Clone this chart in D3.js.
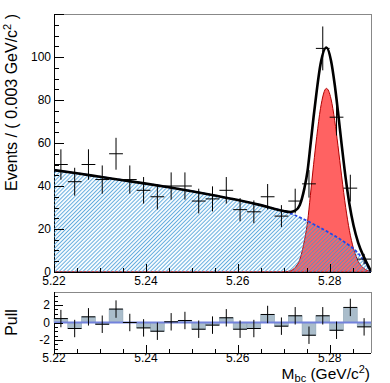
<!DOCTYPE html>
<html><head><meta charset="utf-8">
<script src="https://cdn.jsdelivr.net/npm/d3@7"></script>
<style>body{margin:0;background:#fff}svg{display:block}text{font-family:"Liberation Sans",Arial,Helvetica,sans-serif;fill:#000}</style>
</head><body><svg id="c" width="390" height="383"></svg>
<script>
// ---------- data ----------
const binCenters = [5.2215,5.2245,5.2275,5.2305,5.2335,5.2365,5.2395,5.2425,5.2455,5.2485,5.2515,5.2545,5.2575,5.2605,5.2635,5.2665,5.2695,5.2725,5.2755,5.2785,5.2815,5.2845,5.2875];
const events = [50,42,50,43,55,43,38,35,40,40,33,34,38,29,28,35,26,33,41,104,72,39,6];
const pulls = [0.45,-0.69,0.65,-0.2,1.54,0.0,-0.62,-1.0,0.08,0.23,-0.77,-0.3,0.54,-0.77,-0.69,0.92,-0.42,0.77,-1.46,0.77,-0.89,1.73,-0.5];
const curveMass = [5.220,5.225,5.230,5.235,5.240,5.245,5.250,5.255,5.260,5.265,5.270,5.2715,5.2725,5.2735,5.2745,5.2752,5.2758,5.2765,5.2772,5.2780,5.2793,5.2803,5.2811,5.2818,5.2826,5.2835,5.2843,5.2852,5.2862,5.2875,5.2890];
const bkgCurve = [47.4,45.9,44.3,42.7,41.1,39.4,37.6,35.6,33.5,31.1,28.3,27.3,26.4,25.4,24.4,23.7,23.0,22.2,21.4,20.5,19.0,17.8,16.8,15.9,14.8,13.5,12.3,10.8,8.7,5.2,0.0];
const sigCurve = [0,0,0,0,0,0,0,0,0,0,0.05,0.6,2.1,5.8,14.5,23.5,35.5,49.9,63.1,76.0,85.4,80.5,70.4,58.9,44.7,29.9,19.3,10.8,5.0,1.6,0.3];
const totalCurve = [47.4,45.9,44.3,42.7,41.1,39.4,37.6,35.6,33.5,31.1,28.35,27.9,28.5,31.2,38.9,47.2,58.5,72.1,84.5,96.5,104.4,98.3,87.2,74.8,59.5,43.4,31.6,21.6,13.7,6.8,0.3];
const xTickValues = [5.22,5.24,5.26,5.28];
const xTickLabels = ["5.22","5.24","5.26","5.28"];
const yTickValues = [0,20,40,60,80,100];
const yTickLabels = ["0","20","40","60","80","100"];
const pullTickValues = [-2,0,2];
const pullTickLabels = ["-2","0","2"];
const binWidth = 0.003;

// ---------- layout ----------
const svg = d3.select("#c");
const L = 54, R = 371, T = 14, B = 272, PT = 292, PB = 353;
const x = d3.scaleLinear().domain([5.22, 5.289]).range([L, R]);
const y = d3.scaleLinear().domain([0, 120]).range([B, T]);
const yp = d3.scaleLinear().domain([-3.5, 3.5]).range([PB, PT]);

const defs = svg.append("defs");
const pat = defs.append("pattern").attr("id", "hatch")
  .attr("patternUnits", "userSpaceOnUse").attr("width", 2.8).attr("height", 10)
  .attr("patternTransform", "rotate(45)");
pat.append("line").attr("x1", 1.4).attr("y1", -1).attr("x2", 1.4).attr("y2", 11)
  .attr("stroke", "#3d97d6").attr("stroke-width", 1.05).attr("stroke-opacity", 0.8);
defs.append("clipPath").attr("id", "clipMain").append("rect")
  .attr("x", L).attr("y", T).attr("width", R - L).attr("height", B - T);

// ---------- main panel frame ----------
svg.append("line").attr("x1", L).attr("x2", R).attr("y1", T + 0.5).attr("y2", T + 0.5).attr("stroke", "#888").attr("stroke-width", 1);
svg.append("line").attr("x1", R + 0.5).attr("x2", R + 0.5).attr("y1", T).attr("y2", B).attr("stroke", "#888").attr("stroke-width", 1);
svg.append("line").attr("x1", L).attr("x2", R).attr("y1", B + 0.5).attr("y2", B + 0.5).attr("stroke", "#000");
svg.append("line").attr("x1", L + 0.5).attr("x2", L + 0.5).attr("y1", T).attr("y2", B).attr("stroke", "#000");

const pts = curveMass.map((m, i) => ({m, b: bkgCurve[i], s: sigCurve[i], t: totalCurve[i]}));
const plot = svg.append("g").attr("clip-path", "url(#clipMain)");

// signal
plot.append("path").datum(pts)
  .attr("d", d3.area().x(d => x(d.m)).y0(y(0)).y1(d => y(d.s)).curve(d3.curveMonotoneX))
  .attr("fill", "#ff6262").attr("stroke", "#b00000").attr("stroke-width", 1);
// background hatch
plot.append("path").datum(pts)
  .attr("d", d3.area().x(d => x(d.m)).y0(y(0)).y1(d => y(d.b)).curve(d3.curveMonotoneX))
  .attr("fill", "url(#hatch)");
// background dashed line
plot.append("path").datum(pts)
  .attr("d", d3.line().x(d => x(d.m)).y(d => y(d.b)).curve(d3.curveMonotoneX))
  .attr("fill", "none").attr("stroke", "#2446e6").attr("stroke-width", 1.8).attr("stroke-dasharray", "3,2");
// total
plot.append("path").datum(pts)
  .attr("d", d3.line().x(d => x(d.m)).y(d => y(d.t)).curve(d3.curveMonotoneX))
  .attr("fill", "none").attr("stroke", "#000").attr("stroke-width", 2.6);

// data points
const dp = svg.append("g").attr("stroke", "#000").attr("stroke-width", 1);
binCenters.forEach((c, i) => {
  const n = events[i], e = Math.sqrt(n);
  dp.append("line").attr("x1", x(c - binWidth / 2)).attr("x2", x(c + binWidth / 2)).attr("y1", y(n)).attr("y2", y(n));
  dp.append("line").attr("x1", x(c)).attr("x2", x(c)).attr("y1", y(n - e)).attr("y2", y(Math.min(n + e, 120)));
});

// main ticks
const tk = svg.append("g").attr("stroke", "#000").attr("stroke-width", 1);
d3.range(0, 121, 5).forEach(v => {
  const len = (v % 20 === 0) ? 10 : 5;
  tk.append("line").attr("x1", L).attr("x2", L + len).attr("y1", Math.round(y(v)) + 0.5).attr("y2", Math.round(y(v)) + 0.5);
});
const minorX = d3.range(0, 14).map(k => 5.22 + k * 0.005);
minorX.forEach((v, k) => {
  const len = (k % 4 === 0) ? 8 : 4;
  tk.append("line").attr("x1", Math.round(x(v)) + 0.5).attr("x2", Math.round(x(v)) + 0.5).attr("y1", B).attr("y2", B - len);
});
yTickValues.forEach((v, i) => {
  svg.append("text").attr("x", 51).attr("y", y(v)).attr("dy", "0.36em").attr("text-anchor", "end")
    .attr("font-size", 12).text(yTickLabels[i]);
});
xTickValues.forEach((v, i) => {
  svg.append("text").attr("x", x(v)).attr("y", 285).attr("text-anchor", "middle")
    .attr("font-size", 12).text(xTickLabels[i]);
});
const yt = svg.append("text").attr("transform", "translate(17," + T + ") rotate(-90)")
  .attr("text-anchor", "end").attr("font-size", 16);
yt.append("tspan").text("Events / ( 0.003 GeV/c");
yt.append("tspan").attr("font-size", 11).attr("dy", -6).text("2");
yt.append("tspan").attr("dy", 6).text(" )");

// ---------- pull panel ----------
svg.append("line").attr("x1", L).attr("x2", R).attr("y1", PT + 0.5).attr("y2", PT + 0.5).attr("stroke", "#888");
svg.append("line").attr("x1", R + 0.5).attr("x2", R + 0.5).attr("y1", PT).attr("y2", PB).attr("stroke", "#888");
svg.append("line").attr("x1", L).attr("x2", R).attr("y1", PB + 0.5).attr("y2", PB + 0.5).attr("stroke", "#000");
svg.append("line").attr("x1", L + 0.5).attr("x2", L + 0.5).attr("y1", PT).attr("y2", PB).attr("stroke", "#000");

const pg = svg.append("g");
binCenters.forEach((c, i) => {
  const p = pulls[i];
  pg.append("rect").attr("x", x(c - binWidth / 2)).attr("width", x(c + binWidth / 2) - x(c - binWidth / 2))
    .attr("y", yp(Math.max(p, 0))).attr("height", Math.abs(yp(p) - yp(0)))
    .attr("fill", "#aabdcb").attr("stroke", "#8ea4b4").attr("stroke-width", 0.6);
});
pg.append("line").attr("x1", L).attr("x2", R).attr("y1", yp(0)).attr("y2", yp(0))
  .attr("stroke", "#7282dc").attr("stroke-width", 2);
const pe = svg.append("g").attr("stroke", "#000").attr("stroke-width", 1);
binCenters.forEach((c, i) => {
  const p = pulls[i];
  pe.append("line").attr("x1", x(c - binWidth / 2)).attr("x2", x(c + binWidth / 2)).attr("y1", yp(p)).attr("y2", yp(p));
  pe.append("line").attr("x1", x(c)).attr("x2", x(c)).attr("y1", yp(p - 1)).attr("y2", yp(p + 1));
});
const ptk = svg.append("g").attr("stroke", "#000").attr("stroke-width", 1);
d3.range(-3, 3.01, 0.5).forEach(v => {
  const len = (Math.abs(v % 2) < 1e-6) ? 9 : 4;
  ptk.append("line").attr("x1", L).attr("x2", L + len).attr("y1", Math.round(yp(v)) + 0.5).attr("y2", Math.round(yp(v)) + 0.5);
});
minorX.forEach((v, k) => {
  const len = (k % 4 === 0) ? 8 : 4;
  ptk.append("line").attr("x1", Math.round(x(v)) + 0.5).attr("x2", Math.round(x(v)) + 0.5).attr("y1", PB).attr("y2", PB - len);
});
pullTickValues.forEach((v, i) => {
  svg.append("text").attr("x", 50).attr("y", yp(v)).attr("dy", "0.36em").attr("text-anchor", "end")
    .attr("font-size", 12).text(pullTickLabels[i]);
});
xTickValues.forEach((v, i) => {
  svg.append("text").attr("x", x(v)).attr("y", 362).attr("text-anchor", "middle")
    .attr("font-size", 12).text(xTickLabels[i]);
});
svg.append("text").attr("transform", "translate(17," + ((PT + PB) / 2) + ") rotate(-90)")
  .attr("text-anchor", "middle").attr("font-size", 16).text("Pull");
const xt = svg.append("text").attr("x", 370).attr("y", 378.5).attr("text-anchor", "end").attr("font-size", 15.5);
xt.append("tspan").text("M");
xt.append("tspan").attr("font-size", 11).attr("dy", 3).text("bc");
xt.append("tspan").attr("dy", -3).text(" (GeV/c");
xt.append("tspan").attr("font-size", 11).attr("dy", -6).text("2");
xt.append("tspan").attr("dy", 6).text(")");
</script>
</body></html>
